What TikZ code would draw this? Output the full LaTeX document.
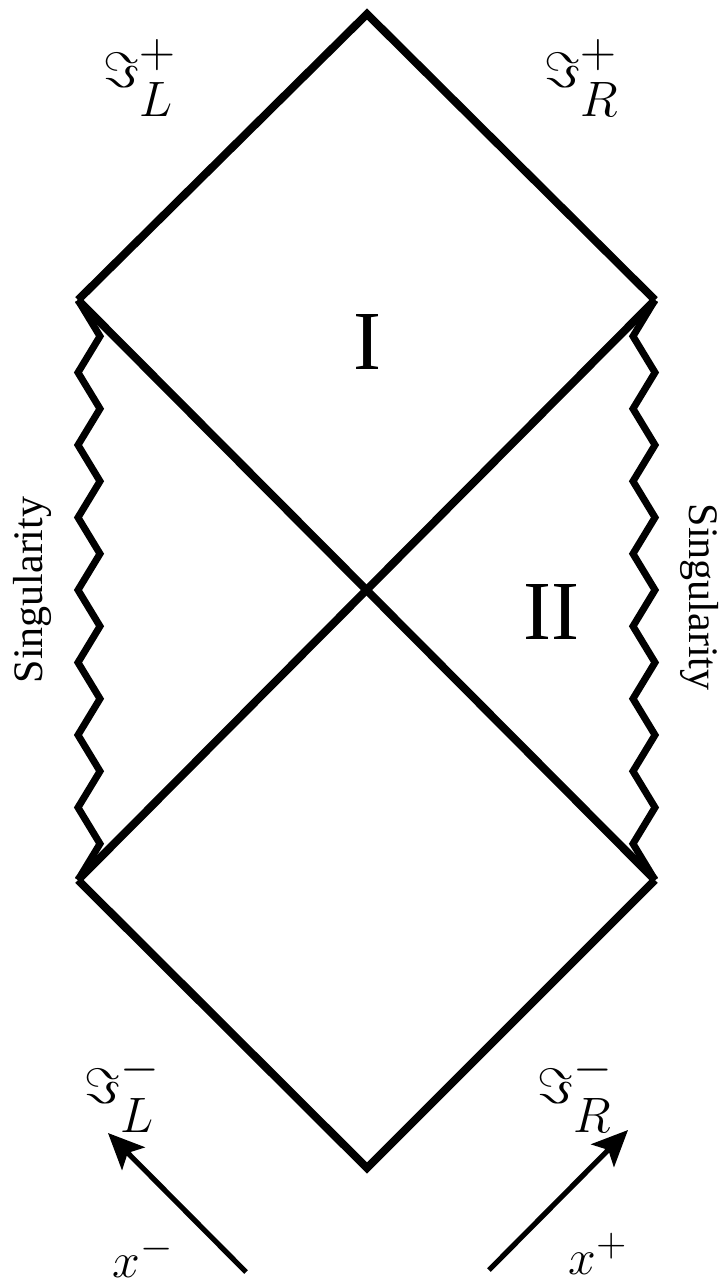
\documentclass[tikz,border=0pt]{standalone}
\usepackage{amsmath,amssymb}
\usepackage{fontspec}
\setmainfont{Liberation Serif}
\usepackage{tikz}
\usetikzlibrary{arrows.meta,calc}
\tikzset{
  bdry/.style={line width=4pt, line join=miter},
  sing/.style={line width=3.5pt, line join=miter},
  arr/.style={line width=2.6pt, -{Stealth[length=18pt, width=16pt, inset=4pt]}},
  scri/.style={font=\fontsize{38}{42}\selectfont},
  xlbl/.style={font=\fontsize{30}{34}\selectfont},
  reg/.style={font=\fontsize{42}{46}\selectfont},
  singlbl/.style={font=\fontsize{21}{24}\selectfont},
}

\begin{document}
\begin{tikzpicture}[x=0.5pt, y=-0.5pt]
\useasboundingbox (0,0) rectangle (720,1287);
% corners of the diagram
\coordinate (top) at (367,14);
\coordinate (lft) at (78,300);
\coordinate (rgt) at (655,300);
\coordinate (blft) at (78,880);
\coordinate (brgt) at (655,880);
\coordinate (bot) at (367,1168);
% null boundaries and horizons
\draw[bdry] (lft)--(top)--(rgt);
\draw[bdry] (blft)--(bot)--(brgt);
\draw[bdry] (lft)--(brgt);
\draw[bdry] (rgt)--(blft);
% singularities
\draw[sing] (lft) \foreach \k in {1,...,16}{ -- ({78+22*mod(\k,2)},{300+36.25*\k}) };
\draw[sing] (rgt) \foreach \k in {1,...,16}{ -- ({655-22*mod(\k,2)},{300+36.25*\k}) };
% labels
\node[scri] (sLp) at (140,78) {$\Im_L^+$};
\node[scri] (sRp) at (582,78) {$\Im_R^+$};
\node[scri] (sLm) at (122,1093) {$\Im_L^-$};
\node[scri] (sRm) at (575,1093) {$\Im_R^-$};
\node[reg] (r1) at (367,342) {I};
\node[reg] (r2) at (551,612) {II};
\node[singlbl, rotate=90] (singL) at (32,590) {Singularity};
\node[singlbl, rotate=-90] (singR) at (700,597) {Singularity};
% null coordinates
\coordinate (xma) at (246,1272);
\coordinate (xmb) at (108,1133);
\coordinate (xpa) at (489,1270);
\coordinate (xpb) at (628,1130);
\draw[arr] (xma)--(xmb);
\draw[arr] (xpa)--(xpb);
\node[xlbl] (xm) at (143,1256) {$x^-$};
\node[xlbl] (xp) at (598,1254) {$x^+$};
\end{tikzpicture}
\end{document}
